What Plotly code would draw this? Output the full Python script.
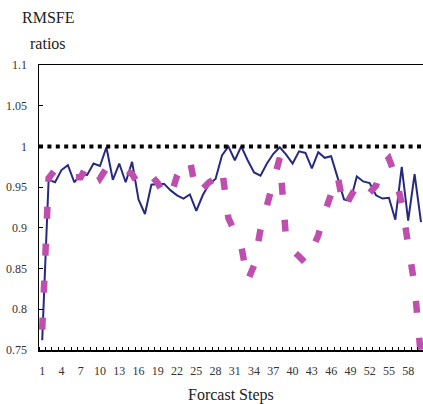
import plotly.graph_objects as go

# ---- data ----
steps = list(range(1, 61))
tick_steps = list(range(1, 59, 3))  # 1, 4, ..., 58

navy_ratio = [0.762, 0.959, 0.956, 0.971, 0.977, 0.956, 0.966, 0.965, 0.979, 0.976,
              0.999, 0.959, 0.979, 0.956, 0.981, 0.935, 0.917, 0.953, 0.954, 0.954,
              0.946, 0.940, 0.936, 0.941, 0.921, 0.940, 0.954, 0.960, 0.989, 1.000,
              0.983, 1.000, 0.983, 0.968, 0.964, 0.979, 0.991, 0.999, 0.990, 0.979,
              0.994, 0.992, 0.973, 0.993, 0.986, 0.988, 0.962, 0.935, 0.933, 0.963,
              0.957, 0.955, 0.940, 0.936, 0.937, 0.910, 0.975, 0.909, 0.966, 0.907]

pink_ratio = [0.775, 0.961, 0.971, 0.968, 0.962, 0.963, 0.962, 0.978, 0.975, 0.961,
              0.973, 0.968, 0.971, 0.971, 0.966, 0.953, 0.956, 0.964, 0.955, 0.940,
              0.939, 0.964, 0.979, 0.983, 0.943, 0.948, 0.956, 0.961, 0.973, 0.912,
              0.894, 0.878, 0.835, 0.854, 0.898, 0.928, 0.958, 0.986, 0.885, 0.872,
              0.865, 0.857, 0.872, 0.891, 0.919, 0.940, 0.964, 0.924, 0.940, 0.952,
              0.940, 0.943, 0.952, 0.977, 0.985, 0.964, 0.930, 0.885, 0.829, 0.740]

reference_value = 1.0

y_tick_values = [0.75, 0.8, 0.85, 0.9, 0.95, 1.0, 1.05, 1.1]
y_tick_labels = ["0.75", "0.8", "0.85", "0.9", "0.95", "1", "1.05", "1.1"]

# ---- figure ----
fig = go.Figure()
fig.add_trace(go.Scatter(x=steps, y=navy_ratio, mode="lines",
                         line=dict(color="#262B7E", width=2), hoverinfo="skip"))
fig.add_trace(go.Scatter(x=steps, y=pink_ratio, mode="lines",
                         line=dict(color="#BF4FAE", width=6.5, dash="12px,25px"),
                         hoverinfo="skip"))
fig.add_hline(y=reference_value, line=dict(color="black", width=4, dash="4px,4.4px"),
              layer="above")

serif = "Liberation Serif, Times New Roman, serif"
fig.update_layout(
    width=423, height=404,
    margin=dict(l=39, r=0, t=65, b=54, autoexpand=False),
    plot_bgcolor="white", paper_bgcolor="white",
    showlegend=False,
    font=dict(family=serif, size=12, color="#333333"),
)
fig.update_xaxes(
    range=[0.5, 60.31], tickmode="array", tickvals=tick_steps,
    ticks="", showline=True, linecolor="black", linewidth=1.5, mirror=True,
    showgrid=False, zeroline=False, ticklabelstandoff=9,
    tickfont=dict(family=serif, size=12, color="#333333"),
    minor=dict(tick0=0.5, dtick=1, ticks="inside", ticklen=3,
               tickcolor="black", tickwidth=1, showgrid=False),
)
fig.update_yaxes(
    range=[0.75, 1.1], tickmode="array", tickvals=y_tick_values, ticktext=y_tick_labels,
    ticks="inside", ticklen=4, tickcolor="black", tickwidth=1,
    showline=True, linecolor="black", linewidth=1.5,
    showgrid=False, zeroline=False, ticklabelstandoff=8,
    tickfont=dict(family=serif, size=12, color="#333333"),
)

ann_font = dict(family=serif, size=16, color="#222222")
fig.add_annotation(text="RMSFE", xref="paper", yref="paper", x=0.023, y=1.165,
                   xanchor="center", yanchor="middle", showarrow=False, font=ann_font)
fig.add_annotation(text="ratios", xref="paper", yref="paper", x=0.023, y=1.077,
                   xanchor="center", yanchor="middle", showarrow=False, font=ann_font)
fig.add_annotation(text="Forcast Steps", xref="paper", yref="paper", x=0.5, y=-0.158,
                   xanchor="center", yanchor="middle", showarrow=False, font=ann_font)

fig.write_html("out.html", config={"displayModeBar": False, "staticPlot": True},
               post_script="document.body.style.margin='0';")
